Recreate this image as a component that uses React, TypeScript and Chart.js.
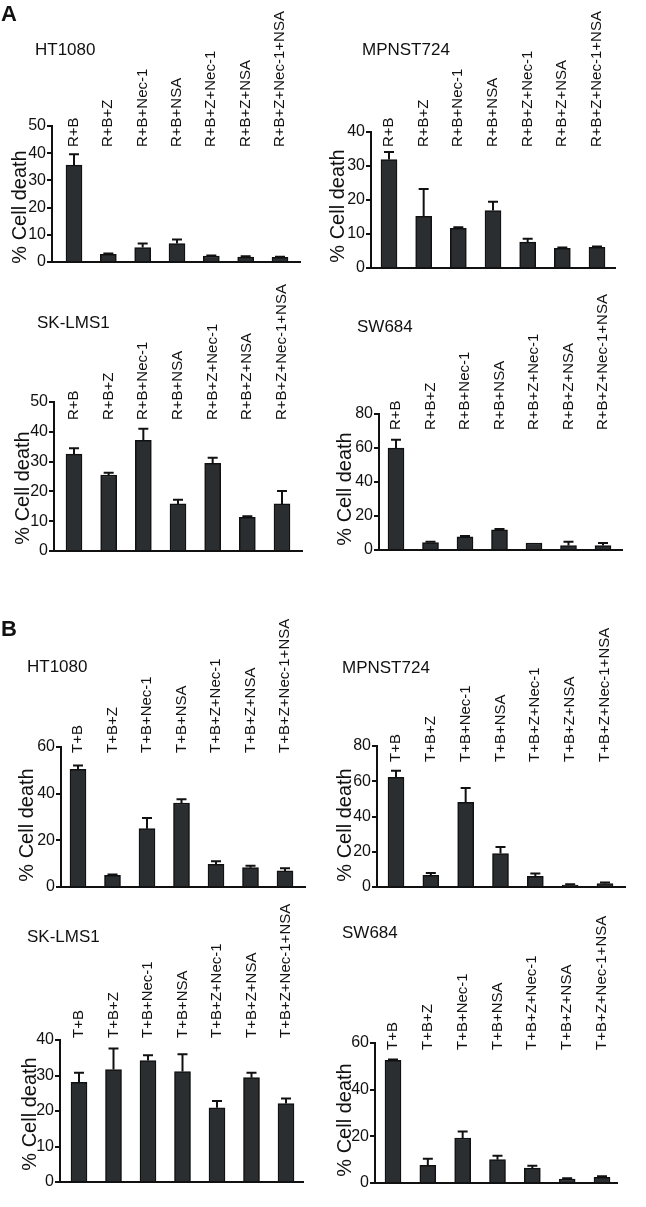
import React, { useEffect, useRef } from 'react';
import { Chart, registerables } from 'chart.js';

Chart.register(...registerables);

const FONT = '"Liberation Sans", Arial, Helvetica, sans-serif';
const INK = '#111111';
const BAR_FILL = '#2b2e30';

// Category labels
const rLabels = ['R+B', 'R+B+Z', 'R+B+Nec-1', 'R+B+NSA', 'R+B+Z+Nec-1', 'R+B+Z+NSA', 'R+B+Z+Nec-1+NSA'];
const tLabels = ['T+B', 'T+B+Z', 'T+B+Nec-1', 'T+B+NSA', 'T+B+Z+Nec-1', 'T+B+Z+NSA', 'T+B+Z+Nec-1+NSA'];

// Panel A (R+B treatments): % cell death, mean and error
const aHT1080 = [35.6, 2.8, 5.3, 6.8, 2.2, 1.8, 1.7];
const aHT1080Err = [4.0, 0.3, 1.5, 1.5, 0.2, 0.3, 0.2];
const aMPNST724 = [31.9, 15.2, 11.7, 16.9, 7.6, 5.8, 6.1];
const aMPNST724Err = [2.2, 8.0, 0.3, 2.6, 1.0, 0.2, 0.2];
const aSKLMS1 = [32.5, 25.5, 37.1, 15.8, 29.4, 11.3, 15.8];
const aSKLMS1Err = [2.0, 0.8, 3.9, 1.4, 1.9, 0.4, 4.3];
const aSW684 = [59.9, 4.3, 7.7, 11.8, 4.1, 2.6, 2.6];
const aSW684Err = [4.9, 0.6, 0.6, 0.6, 0, 2.3, 1.5];

// Panel B (T+B treatments)
const bHT1080 = [50.4, 5.0, 25.0, 36.0, 9.7, 8.3, 6.9];
const bHT1080Err = [1.7, 0.4, 4.6, 1.6, 1.3, 0.8, 1.1];
const bMPNST724 = [62.2, 6.6, 48.0, 19.0, 6.1, 1.1, 1.9];
const bMPNST724Err = [3.8, 1.4, 8.1, 3.7, 1.5, 0.4, 0.6];
const bSKLMS1 = [28.1, 31.7, 34.2, 31.1, 20.9, 29.4, 22.1];
const bSKLMS1Err = [2.7, 5.9, 1.5, 4.9, 1.9, 1.4, 1.4];
const bSW684 = [52.6, 7.6, 19.3, 10.0, 6.4, 1.7, 2.4];
const bSW684Err = [0.3, 2.8, 2.8, 1.7, 1.0, 0.3, 0.5];

// Y tick values
const ticks40 = [0, 10, 20, 30, 40];
const ticks50 = [0, 10, 20, 30, 40, 50];
const ticks60 = [0, 20, 40, 60];
const ticks80 = [0, 20, 40, 60, 80];

type Panel = {
  name: string;
  labels: string[];
  values: number[];
  errors: number[];
  ticks: number[];
  box: [number, number, number, number];
  axisX: number;
  top: number;
  zero: number;
  end: number;
  first: number;
  last: number;
  labelBottom: number;
  titleX: number;
  titleY: number;
  yTitleX: number;
  yTitleY: number;
  letter?: string;
  letterY?: number;
};

const panels: Panel[] = [
  { name: 'HT1080', labels: rLabels, values: aHT1080, errors: aHT1080Err, ticks: ticks50,
    box: [0, 0, 320, 280], axisX: 52, top: 126, zero: 262, end: 300, first: 74, last: 280,
    labelBottom: 147, titleX: 35, titleY: 50, yTitleX: 20, yTitleY: 207, letter: 'A', letterY: 15 },
  { name: 'MPNST724', labels: rLabels, values: aMPNST724, errors: aMPNST724Err, ticks: ticks40,
    box: [320, 0, 326, 280], axisX: 371, top: 132, zero: 268, end: 615, first: 389, last: 597,
    labelBottom: 147, titleX: 362, titleY: 50, yTitleX: 338, yTitleY: 206 },
  { name: 'SK-LMS1', labels: rLabels, values: aSKLMS1, errors: aSKLMS1Err, ticks: ticks50,
    box: [0, 280, 320, 300], axisX: 54, top: 402, zero: 551, end: 302, first: 74, last: 282,
    labelBottom: 420, titleX: 37, titleY: 323, yTitleX: 23, yTitleY: 488 },
  { name: 'SW684', labels: rLabels, values: aSW684, errors: aSW684Err, ticks: ticks80,
    box: [320, 280, 326, 300], axisX: 379, top: 414, zero: 550, end: 622, first: 396, last: 603,
    labelBottom: 430, titleX: 357, titleY: 327, yTitleX: 345, yTitleY: 489 },
  { name: 'HT1080', labels: tLabels, values: bHT1080, errors: bHT1080Err, ticks: ticks60,
    box: [0, 580, 320, 320], axisX: 61, top: 747, zero: 887, end: 305, first: 78, last: 285,
    labelBottom: 753, titleX: 27, titleY: 667, yTitleX: 27, yTitleY: 825, letter: 'B', letterY: 630 },
  { name: 'MPNST724', labels: tLabels, values: bMPNST724, errors: bMPNST724Err, ticks: ticks80,
    box: [320, 580, 326, 320], axisX: 377, top: 746, zero: 887, end: 625, first: 396, last: 605,
    labelBottom: 762, titleX: 342, titleY: 668, yTitleX: 345, yTitleY: 825 },
  { name: 'SK-LMS1', labels: tLabels, values: bSKLMS1, errors: bSKLMS1Err, ticks: ticks40,
    box: [0, 900, 320, 307], axisX: 60, top: 1040, zero: 1182, end: 303, first: 79, last: 286,
    labelBottom: 1038, titleX: 27, titleY: 937, yTitleX: 30, yTitleY: 1114 },
  { name: 'SW684', labels: tLabels, values: bSW684, errors: bSW684Err, ticks: ticks60,
    box: [320, 900, 326, 307], axisX: 375, top: 1043, zero: 1183, end: 617, first: 393, last: 602,
    labelBottom: 1050, titleX: 342, titleY: 933, yTitleX: 345, yTitleY: 1120 },
];

function PanelChart({ p }: { p: Panel }) {
  const ref = useRef<HTMLCanvasElement>(null);

  useEffect(() => {
    if (!ref.current) return;
    const [bx, by, bw, bh] = p.box;
    const n = p.values.length;
    const s = (p.last - p.first) / (n - 1);
    const xMin = -(p.first - p.axisX) / s;
    const xMax = n - 1 + (p.end - p.last) / s;

    const decor = {
      id: 'panelDecor',
      afterDatasetsDraw(chart: any) {
        const ctx = chart.ctx;
        const xs = chart.scales.x;
        const ys = chart.scales.y;
        ctx.save();
        ctx.strokeStyle = INK;
        ctx.lineWidth = 2;
        p.values.forEach((v, i) => {
          const e = p.errors[i];
          if (!e) return;
          const x = xs.getPixelForValue(i);
          const y0 = ys.getPixelForValue(v);
          const y1 = ys.getPixelForValue(v + e);
          ctx.beginPath();
          ctx.moveTo(x, y0);
          ctx.lineTo(x, y1);
          ctx.moveTo(x - 5, y1);
          ctx.lineTo(x + 5, y1);
          ctx.stroke();
        });
        ctx.restore();
      },
      afterDraw(chart: any) {
        const ctx = chart.ctx;
        const xs = chart.scales.x;
        ctx.save();
        ctx.fillStyle = INK;
        ctx.font = `15px ${FONT}`;
        ctx.textAlign = 'left';
        ctx.textBaseline = 'middle';
        p.labels.forEach((lab, i) => {
          const x = xs.getPixelForValue(i);
          ctx.save();
          ctx.translate(x, p.labelBottom - by);
          ctx.rotate(-Math.PI / 2);
          ctx.fillText(lab, 0, 0);
          ctx.restore();
        });
        ctx.font = `17px ${FONT}`;
        ctx.fillText(p.name, p.titleX - bx, p.titleY - by);
        ctx.font = `20px ${FONT}`;
        ctx.textAlign = 'center';
        ctx.save();
        ctx.translate(p.yTitleX - bx, p.yTitleY - by);
        ctx.rotate(-Math.PI / 2);
        ctx.fillText('% Cell death', 0, 0);
        ctx.restore();
        if (p.letter) {
          ctx.textAlign = 'left';
          ctx.font = `bold 22px ${FONT}`;
          ctx.fillText(p.letter, 1, (p.letterY as number) - by);
        }
        ctx.restore();
      },
    };

    const chart = new Chart(ref.current, {
      type: 'bar',
      data: {
        datasets: [
          {
            data: p.values.map((v, i) => ({ x: i, y: v })),
            backgroundColor: BAR_FILL,
            borderColor: INK,
            borderWidth: 1.5,
            barThickness: 16,
          } as any,
        ],
      },
      options: {
        responsive: false,
        animation: false,
        devicePixelRatio: 1,
        layout: {
          padding: { left: 0, top: p.top - by, right: bx + bw - p.end, bottom: by + bh - p.zero },
        },
        plugins: { legend: { display: false }, tooltip: { enabled: false } },
        scales: {
          x: {
            type: 'linear',
            min: xMin,
            max: xMax,
            offset: false,
            grid: { display: false },
            ticks: { display: false },
            border: { display: true, color: INK, width: 2 },
            afterFit: (sc: any) => { sc.height = 0; },
          },
          y: {
            type: 'linear',
            min: p.ticks[0],
            max: p.ticks[p.ticks.length - 1],
            afterBuildTicks: (sc: any) => { sc.ticks = p.ticks.map((v) => ({ value: v })); },
            afterFit: (sc: any) => { sc.width = p.axisX - bx; },
            grid: { display: true, drawOnChartArea: false, drawTicks: true, tickLength: 5, color: INK, lineWidth: 2 },
            border: { display: true, color: INK, width: 2 },
            ticks: { color: INK, padding: 1, font: { size: 16, family: FONT } },
          },
        },
      } as any,
      plugins: [decor],
    });
    return () => chart.destroy();
  }, [p]);

  const [bx, by, bw, bh] = p.box;
  return (
    <canvas
      ref={ref}
      width={bw}
      height={bh}
      style={{ position: 'absolute', left: bx, top: by, width: bw, height: bh }}
    />
  );
}

export default function App() {
  return (
    <div style={{ position: 'absolute', left: 0, top: 0, width: 646, height: 1207, background: '#fff' }}>
      {panels.map((p, i) => (
        <PanelChart key={i} p={p} />
      ))}
    </div>
  );
}
